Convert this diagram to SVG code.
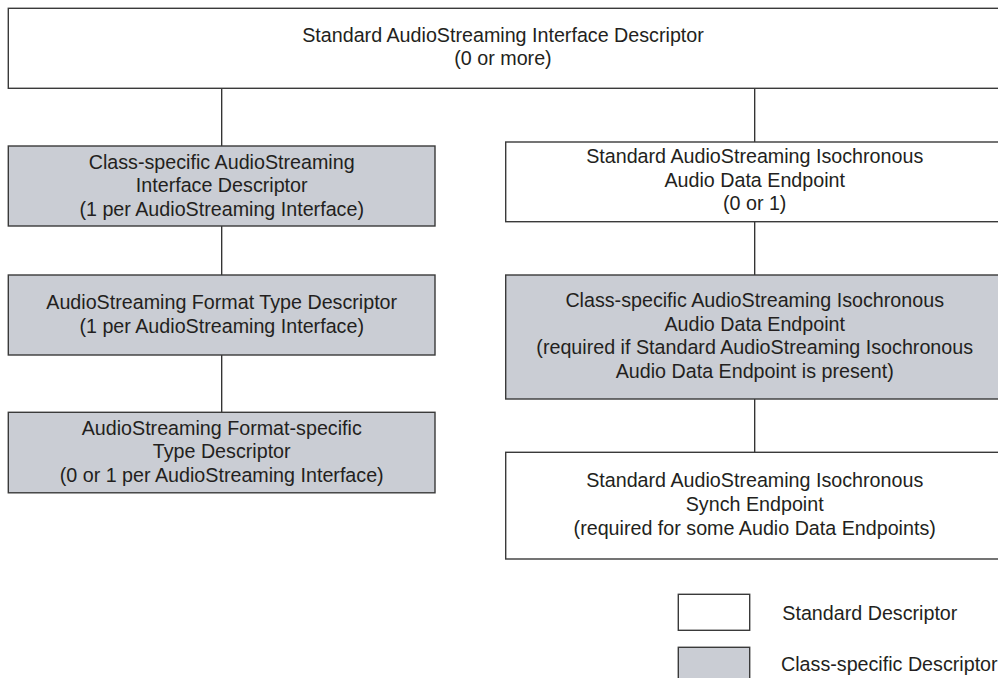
<svg xmlns="http://www.w3.org/2000/svg" width="998" height="678" viewBox="0 0 998 678">
<style>
.std{fill:#ffffff;stroke:#3a3a3a;stroke-width:1.4}
.cls{fill:#cacdd4;stroke:#3a3a3a;stroke-width:1.4}
.t{font-family:"Liberation Sans",Arial,sans-serif;font-size:19.7px;fill:#231f20;text-anchor:middle}
.lt{font-family:"Liberation Sans",Arial,sans-serif;font-size:19.7px;fill:#231f20}
.c{stroke:#2a2a2a;stroke-width:1.3;fill:none}
</style>
<rect width="998" height="678" fill="#ffffff"/>
<g id="connectors">
<line class="c" x1="221.7" y1="88" x2="221.7" y2="146"/>
<line class="c" x1="221.7" y1="226" x2="221.7" y2="275"/>
<line class="c" x1="221.7" y1="355" x2="221.7" y2="412"/>
<line class="c" x1="754.7" y1="88" x2="754.7" y2="142"/>
<line class="c" x1="754.7" y1="222" x2="754.7" y2="275"/>
<line class="c" x1="754.7" y1="399" x2="754.7" y2="452"/>
</g>
<g id="top">
<rect class="std" x="8.3" y="8.3" width="995" height="80"/>
<text class="t" x="503" y="41.7">Standard AudioStreaming Interface Descriptor</text>
<text class="t" x="503" y="65">(0 or more)</text>
</g>
<g id="cs-interface">
<rect class="cls" x="8.3" y="146" width="426.7" height="80"/>
<text class="t" x="221.7" y="168.5">Class-specific AudioStreaming</text>
<text class="t" x="221.7" y="192">Interface Descriptor</text>
<text class="t" x="221.7" y="215.5">(1 per AudioStreaming Interface)</text>
</g>
<g id="format-type">
<rect class="cls" x="8.3" y="275" width="426.7" height="80"/>
<text class="t" x="221.7" y="309.3">AudioStreaming Format Type Descriptor</text>
<text class="t" x="221.7" y="332.7">(1 per AudioStreaming Interface)</text>
</g>
<g id="format-specific">
<rect class="cls" x="8.3" y="412.3" width="426.7" height="80.5"/>
<text class="t" x="221.7" y="435">AudioStreaming Format-specific</text>
<text class="t" x="221.7" y="458.3">Type Descriptor</text>
<text class="t" x="221.7" y="481.7">(0 or 1 per AudioStreaming Interface)</text>
</g>
<g id="std-endpoint">
<rect class="std" x="505.7" y="142" width="500" height="79.7"/>
<text class="t" x="754.7" y="163.3">Standard AudioStreaming Isochronous</text>
<text class="t" x="754.7" y="186.7">Audio Data Endpoint</text>
<text class="t" x="754.7" y="210">(0 or 1)</text>
</g>
<g id="cs-endpoint">
<rect class="cls" x="505.7" y="275" width="500" height="124"/>
<text class="t" x="754.7" y="307.3">Class-specific AudioStreaming Isochronous</text>
<text class="t" x="754.7" y="330.7">Audio Data Endpoint</text>
<text class="t" x="754.7" y="354.3">(required if Standard AudioStreaming Isochronous</text>
<text class="t" x="754.7" y="378">Audio Data Endpoint is present)</text>
</g>
<g id="synch-endpoint">
<rect class="std" x="505.7" y="452.3" width="500" height="106.7"/>
<text class="t" x="754.7" y="487.3">Standard AudioStreaming Isochronous</text>
<text class="t" x="754.7" y="511">Synch Endpoint</text>
<text class="t" x="754.7" y="534.7">(required for some Audio Data Endpoints)</text>
</g>
<g id="legend-standard">
<rect class="std" x="678.3" y="594.3" width="71.4" height="36"/>
<text class="lt" x="782.3" y="620">Standard Descriptor</text>
</g>
<g id="legend-class">
<rect class="cls" x="678.3" y="647.3" width="71.4" height="40"/>
<text class="lt" x="781" y="670.5">Class-specific Descriptor</text>
</g>
</svg>
